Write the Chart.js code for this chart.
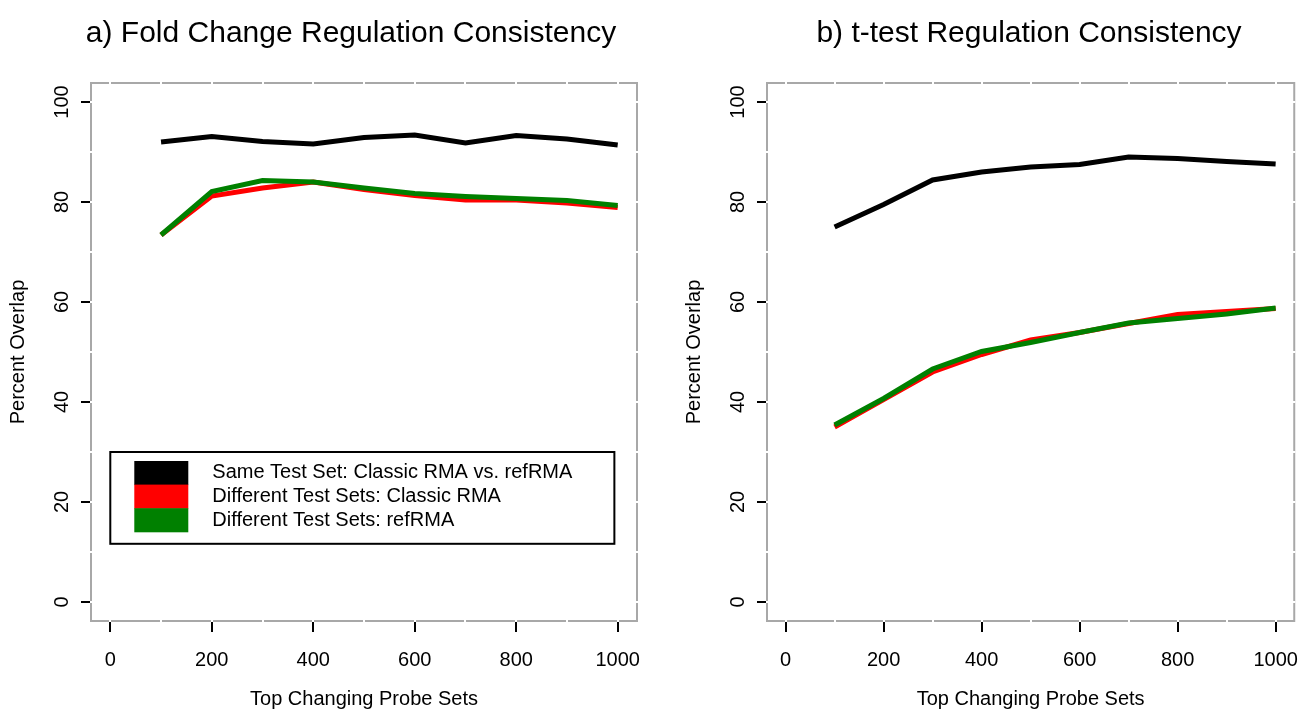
<!DOCTYPE html>
<html>
<head>
<meta charset="utf-8">
<script src="https://cdn.jsdelivr.net/npm/chart.js@4.4.0/dist/chart.umd.min.js"></script>
<style>
    html, body { margin: 0; padding: 0; background: #fff; }
    body { width: 1314px; height: 711px; position: relative; overflow: hidden;
           font-family: "Liberation Sans", Arial, Helvetica, sans-serif; }
    .panel { position: absolute; top: 0; width: 657px; height: 711px; }
    .panel h2 { position: absolute; top: 15px; margin: 0; font-weight: normal; font-size: 30px;
                white-space: nowrap; transform: translateX(-50%); color: #000; }
</style>
</head>
<body>
<div class="panel" style="left:0">
    <h2 id="title-a" style="left:351px">a) Fold Change Regulation Consistency</h2>
    <canvas id="chartA"></canvas>
</div>
<div class="panel" style="left:657px">
    <h2 id="title-b" style="left:372px">b) t-test Regulation Consistency</h2>
    <canvas id="chartB"></canvas>
</div>
<script>
// probe set counts on the x axis
const probeSets = [100, 200, 300, 400, 500, 600, 700, 800, 900, 1000];

// a) fold change
const fcSame    = [92.0, 93.1, 92.1, 91.6, 92.9, 93.4, 91.8, 93.3, 92.6, 91.4];
const fcClassic = [73.4, 81.2, 82.8, 84.0, 82.5, 81.3, 80.4, 80.4, 79.8, 78.9];
const fcRef     = [73.4, 82.1, 84.3, 84.0, 82.8, 81.7, 81.1, 80.7, 80.3, 79.3];

// b) t-test
const ttSame    = [75.0, 79.5, 84.4, 86.0, 87.0, 87.5, 89.0, 88.7, 88.1, 87.6];
const ttClassic = [35.0, 40.5, 46.0, 49.5, 52.4, 53.9, 55.7, 57.5, 58.1, 58.7];
const ttRef     = [35.4, 40.7, 46.6, 50.1, 51.9, 53.9, 55.8, 56.7, 57.6, 58.8];

const seriesLabels = [
    'Same Test Set: Classic RMA vs. refRMA',
    'Different Test Sets: Classic RMA',
    'Different Test Sets: refRMA'
];
const seriesColors = ['#000000', '#ff0000', '#008000'];

// ticks
const xTickLabels = [0, 200, 400, 600, 800, 1000];
const xGrid = [0, 100, 200, 300, 400, 500, 600, 700, 800, 900, 1000];
const yTickLabels = [0, 20, 40, 60, 80, 100];
const yGrid = [0, 10, 20, 30, 40, 50, 60, 70, 80, 90, 100];

const FONT = '"Liberation Sans", Arial, Helvetica, sans-serif';
Chart.defaults.font.family = FONT;
Chart.defaults.color = '#000';

// grey plot box, drawn before the white grid so the grid cuts little gaps in it
const plotBox = {
    id: 'plotBox',
    beforeDraw(chart) {
        const { ctx, chartArea: a } = chart;
        ctx.save();
        ctx.strokeStyle = '#a8a8a8';
        ctx.lineWidth = 2;
        ctx.strokeRect(a.left + 1, a.top + 1, a.right - a.left - 2, a.bottom - a.top - 2);
        ctx.restore();
    }
};

// legend drawn inside the plot at a data position
const insideLegend = {
    id: 'insideLegend',
    afterDatasetsDraw(chart, args, opts) {
        if (!opts.show) return;
        const { ctx, scales } = chart;
        const x0 = scales.x.getPixelForValue(opts.at[0]);
        const y0 = scales.y.getPixelForValue(opts.at[1]);
        ctx.save();
        ctx.font = '20px ' + FONT;
        const textW = Math.max(...seriesLabels.map(t => ctx.measureText(t).width));
        const rowH = 23.6;
        const w = 24 + 54 + 24 + textW + 42;
        const h = 9 + rowH * seriesLabels.length + 12;
        ctx.fillStyle = '#fff';
        ctx.fillRect(x0, y0, w, h);
        seriesLabels.forEach((label, i) => {
            const top = y0 + 9 + i * rowH;
            ctx.fillStyle = seriesColors[i];
            ctx.fillRect(x0 + 24, top, 54, rowH + 0.5);
            ctx.fillStyle = '#000';
            ctx.textBaseline = 'middle';
            ctx.textAlign = 'left';
            ctx.fillText(label, x0 + 102, top + rowH / 2);
        });
        ctx.strokeStyle = '#000';
        ctx.lineWidth = 2;
        ctx.strokeRect(x0, y0, w, h);
        ctx.restore();
    }
};

function makeChart(id, values, padLeft, padRight, showLegend) {
    const ctx = document.getElementById(id).getContext('2d');
    const datasets = values.map((vals, i) => ({
        label: seriesLabels[i],
        data: probeSets.map((p, j) => ({ x: p, y: vals[j] })),
        borderColor: seriesColors[i],
        backgroundColor: seriesColors[i],
        borderWidth: 5,
        pointRadius: 0,
        tension: 0,
        fill: false,
        order: values.length - i
    }));

    return new Chart(ctx, {
        type: 'line',
        data: { datasets: datasets },
        options: {
            responsive: true,
            maintainAspectRatio: false,
            animation: false,
            layout: { padding: { left: padLeft, right: padRight, top: 82, bottom: 0 } },
            plugins: {
                legend: { display: false },
                tooltip: { enabled: false },
                insideLegend: { show: showLegend, at: [0, 30] }
            },
            scales: {
                x: {
                    type: 'linear',
                    min: -40,
                    max: 1040,
                    afterBuildTicks: s => { s.ticks = xGrid.map(v => ({ value: v })); },
                    afterFit: s => { s.height = 89; },
                    ticks: {
                        autoSkip: false,
                        maxRotation: 0,
                        padding: 16,
                        font: { size: 20 },
                        callback: v => xTickLabels.includes(v) ? String(v) : ''
                    },
                    grid: {
                        color: '#ffffff',
                        lineWidth: 2,
                        tickLength: 10,
                        tickWidth: 2,
                        tickColor: c => xTickLabels.includes(c.tick.value) ? '#000' : 'rgba(0,0,0,0)'
                    },
                    border: { display: false },
                    title: {
                        display: true,
                        text: 'Top Changing Probe Sets',
                        font: { size: 20 },
                        padding: { top: 0, bottom: 0 }
                    }
                },
                y: {
                    type: 'linear',
                    min: -4,
                    max: 104,
                    afterBuildTicks: s => { s.ticks = yGrid.map(v => ({ value: v })); },
                    afterFit: s => { s.width = 90; },
                    ticks: {
                        autoSkip: false,
                        minRotation: 90,
                        maxRotation: 90,
                        crossAlign: 'center',
                        padding: 2,
                        font: { size: 20 },
                        callback: v => yTickLabels.includes(v) ? String(v) : ''
                    },
                    grid: {
                        color: '#ffffff',
                        lineWidth: 2,
                        tickLength: 9,
                        tickWidth: 2,
                        tickColor: c => yTickLabels.includes(c.tick.value) ? '#000' : 'rgba(0,0,0,0)'
                    },
                    border: { display: false },
                    title: {
                        display: true,
                        text: 'Percent Overlap',
                        font: { size: 20 },
                        padding: { top: 6, bottom: 0 }
                    }
                }
            }
        },
        plugins: [plotBox, insideLegend]
    });
}

makeChart('chartA', [fcSame, fcClassic, fcRef], 0, 19, true);
makeChart('chartB', [ttSame, ttClassic, ttRef], 19, 3, false);
</script>
</body>
</html>
